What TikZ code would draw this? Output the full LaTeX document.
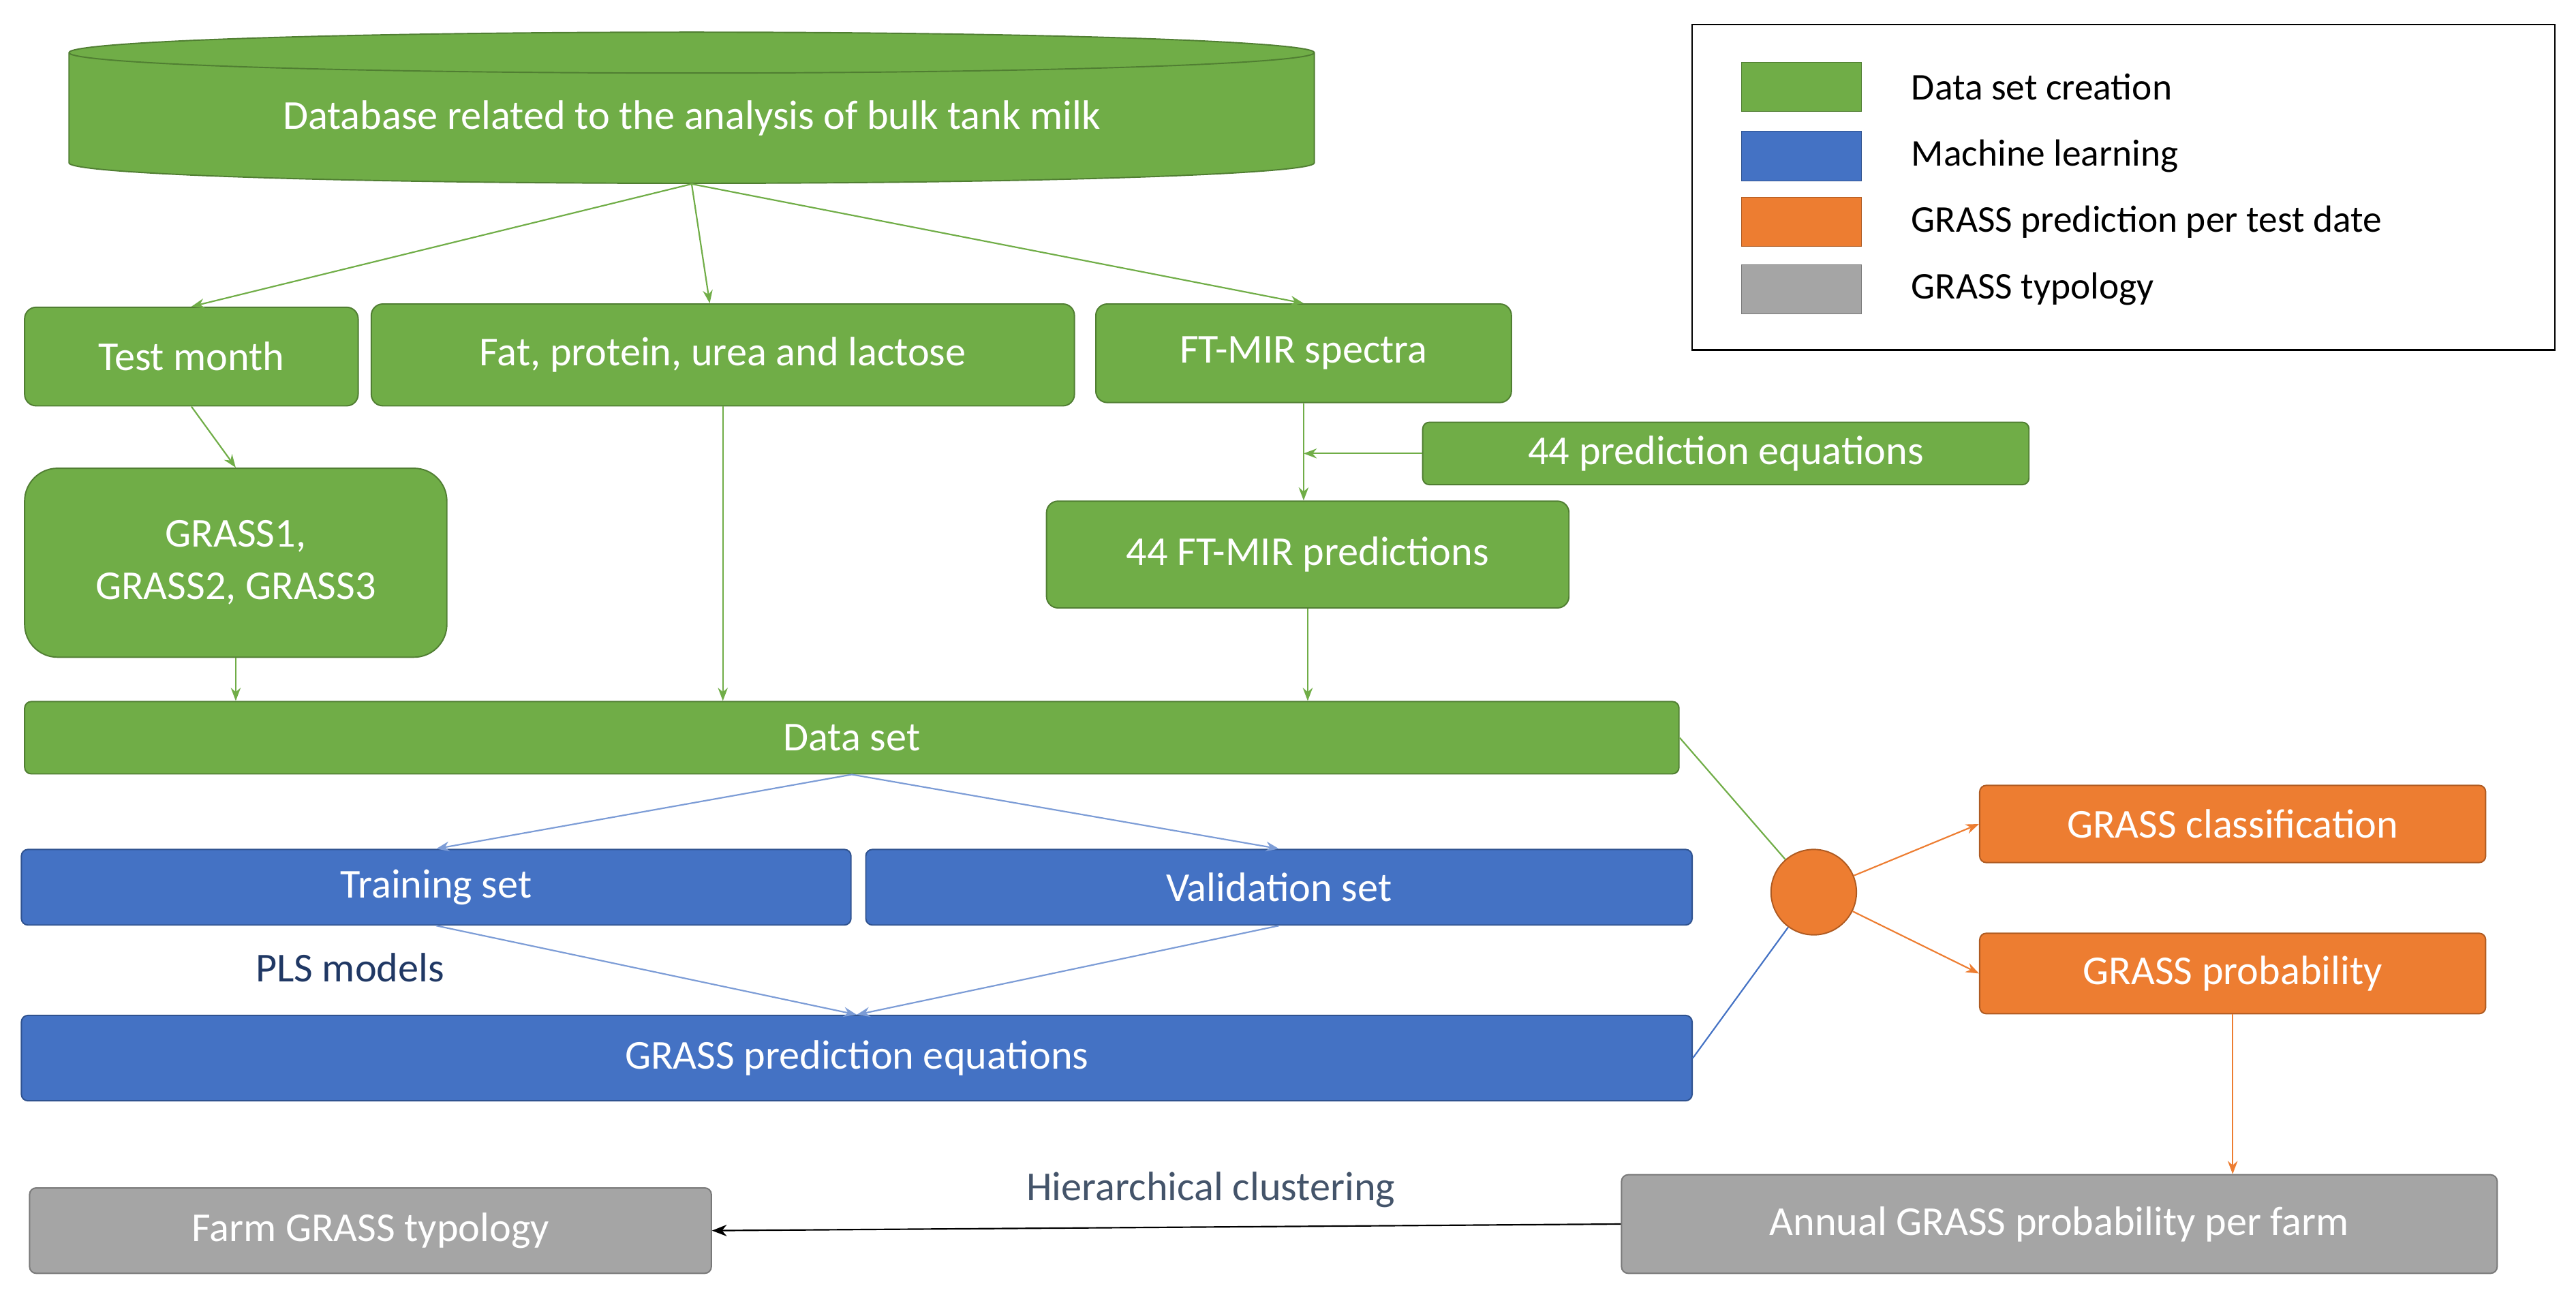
\documentclass[tikz,border=0pt]{standalone}
\usepackage{fontspec}
\setmainfont{Carlito}
\usetikzlibrary{shapes.geometric,arrows.meta,positioning,calc}
\definecolor{cgreen}{HTML}{70AD47}
\definecolor{cgreenb}{HTML}{507E32}
\definecolor{cblue}{HTML}{4472C4}
\definecolor{cblueb}{HTML}{2F528F}
\definecolor{corange}{HTML}{ED7D31}
\definecolor{corangeb}{HTML}{AE5A21}
\definecolor{cgrey}{HTML}{A5A5A5}
\definecolor{cgreyb}{HTML}{787878}
\definecolor{cnavy}{HTML}{203864}
\definecolor{cslate}{HTML}{44546A}
\tikzset{
  box/.style={draw, line width=0.8pt, rounded corners=7pt, text=white,
    font=\fontsize{25}{30}\selectfont, inner sep=0pt},
  greenbox/.style={box, fill=cgreen, draw=cgreenb},
  bluebox/.style={box, fill=cblue, draw=cblueb},
  orangebox/.style={box, fill=corange, draw=corangeb},
  greybox/.style={box, fill=cgrey, draw=cgreyb},
  swatch/.style={draw=none, minimum width=73pt, minimum height=30pt},
  legtext/.style={anchor=west, font=\fontsize{23}{28}\selectfont},
  garrow/.style={draw=cgreen, line width=0.9pt, -{Stealth[length=8pt,width=6pt]}},
  barrow/.style={draw=cblue!70, line width=0.9pt, -{Stealth[length=8pt,width=6pt]}},
  oarrow/.style={draw=corange, line width=0.9pt, -{Stealth[length=8pt,width=6pt]}},
}
\begin{document}
\begin{tikzpicture}[x=1pt,y=-1pt]
  \useasboundingbox (0,0) rectangle (1568,790.6);

  % data set creation
  \node[cylinder, shape border rotate=90, aspect=0.05, fill=cgreen, draw=cgreenb,
    line width=0.8pt, minimum width=758pt, minimum height=92pt, text=white,
    font=\fontsize{25}{30}\selectfont, inner sep=0pt] (db) at (421,72)
    {Database related to the analysis of bulk tank milk};
  \node[greenbox, minimum width=203pt, minimum height=60pt] (month) at (116.5,217) {Test month};
  \node[greenbox, minimum width=428pt, minimum height=62pt] (comp) at (440,216) {Fat, protein, urea and lactose};
  \node[greenbox, minimum width=253pt, minimum height=60pt] (spectra) at (793.5,215) {FT-MIR spectra};
  \node[greenbox, rounded corners=4pt, minimum width=369pt, minimum height=38pt] (eqs) at (1050.5,276) {44 prediction equations};
  \node[greenbox, rounded corners=20pt, minimum width=257pt, minimum height=115pt,
    align=center] (grass) at (143.5,342.5) {GRASS1,\\[2pt]GRASS2, GRASS3};
  \node[greenbox, minimum width=318pt, minimum height=65pt] (preds) at (796,337.5) {44 FT-MIR predictions};
  \node[greenbox, rounded corners=4pt, minimum width=1007pt, minimum height=44pt] (dataset) at (518.5,449) {Data set};

  % machine learning
  \node[bluebox, rounded corners=4pt, minimum width=505pt, minimum height=46pt] (train) at (265.5,540) {Training set};
  \node[bluebox, rounded corners=4pt, minimum width=503pt, minimum height=46pt] (valid) at (778.5,540) {Validation set};
  \node[text=cnavy, font=\fontsize{25}{30}\selectfont] (pls) at (213,589) {PLS models};
  \node[bluebox, rounded corners=4pt, minimum width=1017pt, minimum height=52pt] (gpe) at (521.5,644) {GRASS prediction equations};

  % prediction per test date
  \node[circle, fill=corange, draw=corangeb, line width=0.8pt, minimum size=52pt] (hub) at (1104,543) {};
  \node[orangebox, rounded corners=4pt, minimum width=308pt, minimum height=47pt] (class) at (1359,501.5) {GRASS classification};
  \node[orangebox, rounded corners=4pt, minimum width=308pt, minimum height=49pt] (prob) at (1359,592.5) {GRASS probability};

  % typology
  \node[greybox, rounded corners=4pt, minimum width=533pt, minimum height=60pt] (annual) at (1253.5,745) {Annual GRASS probability per farm};
  \node[greybox, rounded corners=4pt, minimum width=415pt, minimum height=52pt] (farm) at (225.5,749) {Farm GRASS typology};
  \node[text=cslate, font=\fontsize{25}{30}\selectfont] (hc) at (737,724) {Hierarchical clustering};

  % connectors
  \draw[garrow] (db.south) -- (month.north);
  \draw[garrow] (db.south) -- (comp.north -| 432,0);
  \draw[garrow] (db.south) -- (spectra.north);
  \draw[garrow] (month.south) -- (grass.north);
  \draw[garrow] (comp.south) -- (dataset.north -| comp.south);
  \draw[garrow] (spectra.south) -- (preds.north -| spectra.south);
  \draw[garrow] (eqs.west) -- (eqs.west -| spectra.south);
  \draw[garrow] (grass.south) -- (dataset.north -| grass.south);
  \draw[garrow] (preds.south) -- (dataset.north -| preds.south);
  \draw[barrow] (dataset.south) -- (train.north);
  \draw[barrow] (dataset.south) -- (valid.north);
  \draw[barrow] (train.south) -- (gpe.north);
  \draw[barrow] (valid.south) -- (gpe.north);
  \draw[draw=cgreen, line width=0.9pt] (dataset.east) -- (hub);
  \draw[draw=cblue, line width=0.9pt] (gpe.east) -- (hub);
  \draw[oarrow] (hub) -- (class.west);
  \draw[oarrow] (hub) -- (prob.west);
  \draw[oarrow] (prob.south) -- (annual.north -| prob.south);
  \draw[line width=0.9pt, -{Stealth[length=9pt,width=7pt]}] (annual.west) -- (farm.east);

  % legend
  \node[draw, line width=0.9pt, minimum width=525pt, minimum height=198pt] (legend) at (1292.5,114) {};
  \node[swatch, fill=cgreen, draw=cgreenb] (sw1) at (1096.5,53) {};
  \node[swatch, fill=cblue, draw=cblueb] (sw2) at (1096.5,95) {};
  \node[swatch, fill=corange, draw=corangeb] (sw3) at (1096.5,135) {};
  \node[swatch, fill=cgrey, draw=cgreyb] (sw4) at (1096.5,176) {};
  \node[legtext] (l1) at (1160,53) {Data set creation};
  \node[legtext] (l2) at (1160,95) {Machine learning};
  \node[legtext] (l3) at (1160,135) {GRASS prediction per test date};
  \node[legtext] (l4) at (1160,176) {GRASS typology};
\end{tikzpicture}
\end{document}
